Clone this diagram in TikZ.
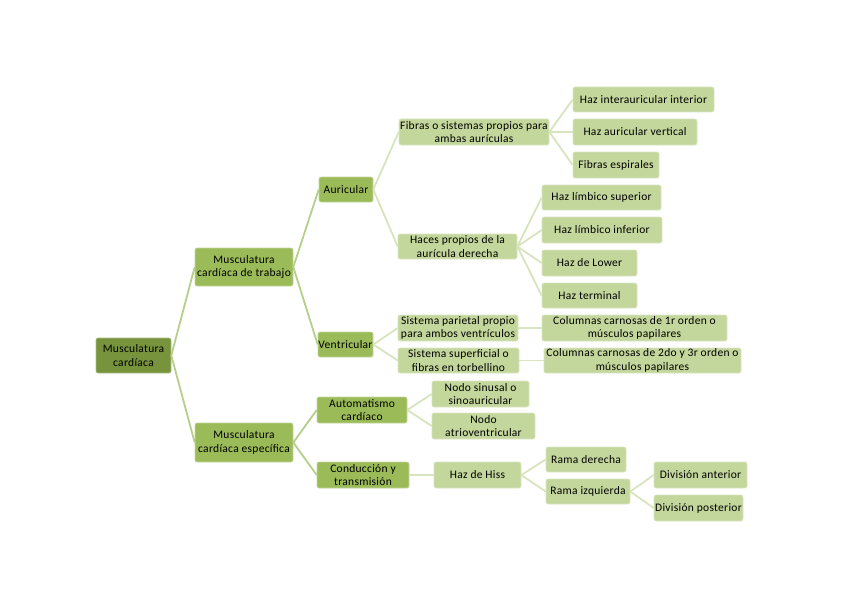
\documentclass[tikz,border=0pt]{standalone}
\usepackage{fontspec}
\setmainfont{Carlito}[LetterSpace=2.5]
\definecolor{cRoot}{HTML}{77933C}
\definecolor{cMid}{HTML}{9BBB59}
\definecolor{cLight}{HTML}{C3D69B}
\definecolor{lkA}{HTML}{B5CF8A}
\definecolor{lkB}{HTML}{D7E4BD}
\tikzset{
  bx/.style n args={3}{rectangle, rounded corners=2pt, inner sep=0pt, align=center,
    minimum width=#1, minimum height=#2, fill=#3, draw=#3!60!white, line width=0.6pt,
    font=\fontsize{11.5}{13.5}\selectfont, text=black},
  rootbox/.style 2 args={bx={#1}{#2}{cRoot}},
  midbox/.style 2 args={bx={#1}{#2}{cMid}},
  lightbox/.style 2 args={bx={#1}{#2}{cLight}},
  linkA/.style={draw=lkA, line width=1.8pt},
  linkB/.style={draw=lkB, line width=1.8pt},
}
\begin{document}
\begin{tikzpicture}[x=1pt,y=-1pt]
\useasboundingbox (0,0) rectangle (848,599);
% nodes
\node[rootbox={75pt}{35pt}] (root) at (133.5,355.5) {Musculatura\\cardíaca};
\node[midbox={98pt}{38pt}] (trab) at (244,267) {Musculatura\\cardíaca de trabajo};
\node[midbox={98pt}{39pt}] (esp) at (244,442.5) {Musculatura\\cardíaca específica};
\node[midbox={54pt}{25pt}] (aur) at (346,189.5) {Auricular};
\node[midbox={55pt}{25pt}] (ven) at (345.5,344.5) {Ventricular};
\node[midbox={90pt}{26pt}] (auto) at (362,410) {Automatismo\\cardíaco};
\node[midbox={92pt}{26pt}] (cond) at (363,475) {Conducción y\\transmisión};
\node[lightbox={150pt}{26pt}] (fib) at (474,132) {Fibras o sistemas propios para\\ambas aurículas};
\node[lightbox={119pt}{25pt}] (hac) at (457.5,246.5) {Haces propios de la\\aurícula derecha};
\node[lightbox={141pt}{25pt}] (hii) at (643.5,99.5) {Haz interauricular interior};
\node[lightbox={124pt}{26pt}] (hav) at (635,132) {Haz auricular vertical};
\node[lightbox={86pt}{26pt}] (fes) at (616,165) {Fibras espirales};
\node[lightbox={119pt}{25pt}] (hls) at (601.5,197.5) {Haz límbico superior};
\node[lightbox={120pt}{26pt}] (hli) at (602,230) {Haz límbico inferior};
\node[lightbox={95pt}{26pt}] (hlo) at (589.5,263) {Haz de Lower};
\node[lightbox={95pt}{25pt}] (hte) at (589.5,295.5) {Haz terminal};
\node[lightbox={120pt}{26pt}] (spa) at (458,328) {Sistema parietal propio\\para ambos ventrículos};
\node[lightbox={121pt}{25pt}] (ssu) at (458.5,360.5) {Sistema superficial o\\fibras en torbellino};
\node[lightbox={185pt}{26pt}] (c1) at (634.5,328) {Columnas carnosas de 1r orden o\\músculos papilares};
\node[lightbox={197pt}{25pt}] (c2) at (642.5,360.5) {Columnas carnosas de 2do y 3r orden o\\músculos papilares};
\node[lightbox={97pt}{26pt}] (nsi) at (480.5,394) {Nodo sinusal o\\sinoauricular};
\node[lightbox={103pt}{26pt}] (nav) at (483.5,426) {Nodo\\atrioventricular};
\node[lightbox={87pt}{26pt}] (hh) at (477.5,475) {Haz de Hiss};
\node[lightbox={80pt}{25pt}] (rd) at (586,459.5) {Rama derecha};
\node[lightbox={84pt}{25pt}] (ri) at (588,491.5) {Rama izquierda};
\node[lightbox={93pt}{26pt}] (da) at (700.5,475) {División anterior};
\node[lightbox={89pt}{26pt}] (dp) at (698.5,508) {División posterior};
% connectors
\draw[linkA] (root.east) -- (trab.west);
\draw[linkA] (root.east) -- (esp.west);
\draw[linkA] (trab.east) -- (aur.west);
\draw[linkA] (trab.east) -- (ven.west);
\draw[linkA] (esp.east) -- (auto.west);
\draw[linkA] (esp.east) -- (cond.west);
\draw[linkB] (aur.east) -- (fib.west);
\draw[linkB] (aur.east) -- (hac.west);
\draw[linkB] (fib.east) -- (hii.west);
\draw[linkB] (fib.east) -- (hav.west);
\draw[linkB] (fib.east) -- (fes.west);
\draw[linkB] (hac.east) -- (hls.west);
\draw[linkB] (hac.east) -- (hli.west);
\draw[linkB] (hac.east) -- (hlo.west);
\draw[linkB] (hac.east) -- (hte.west);
\draw[linkB] (ven.east) -- (spa.west);
\draw[linkB] (ven.east) -- (ssu.west);
\draw[linkB] (spa.east) -- (c1.west);
\draw[linkB] (ssu.east) -- (c2.west);
\draw[linkB] (auto.east) -- (nsi.west);
\draw[linkB] (auto.east) -- (nav.west);
\draw[linkB] (cond.east) -- (hh.west);
\draw[linkB] (hh.east) -- (rd.west);
\draw[linkB] (hh.east) -- (ri.west);
\draw[linkB] (ri.east) -- (da.west);
\draw[linkB] (ri.east) -- (dp.west);
\end{tikzpicture}
\end{document}
